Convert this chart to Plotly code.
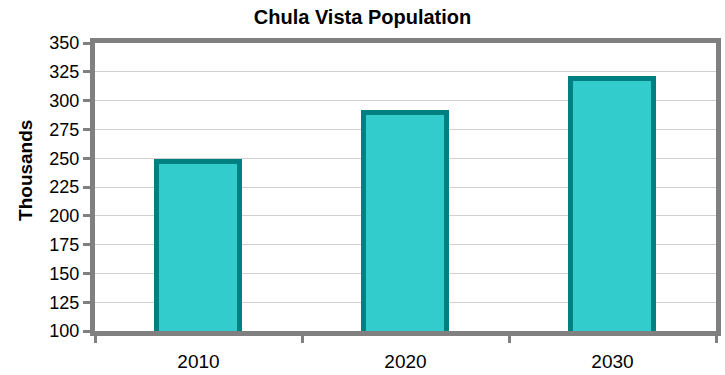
import plotly.graph_objects as go

# Chula Vista population, in thousands
years = ["2010", "2020", "2030"]
population = [247, 289, 319]
y_ticks = [100, 125, 150, 175, 200, 225, 250, 275, 300, 325, 350]

positions = list(range(len(years)))

fig = go.Figure(
    go.Bar(
        x=positions,
        y=population,
        width=0.405,
        marker=dict(color="#33CCCC", line=dict(color="#008080", width=5)),
        hoverinfo="skip",
    )
)

axis_grey = "#808080"
font_family = "Liberation Sans, Arial, sans-serif"

fig.update_layout(
    width=725,
    height=375,
    margin=dict(l=95, r=9, t=43, b=44),
    paper_bgcolor="white",
    plot_bgcolor="white",
    showlegend=False,
    font=dict(family=font_family, size=18, color="black"),
    title=dict(
        text="<b>Chula Vista Population</b>",
        x=0.5,
        xanchor="center",
        y=0.955,
        yanchor="middle",
        font=dict(family=font_family, size=20, color="black"),
    ),
    bargap=0,
    annotations=[
        dict(
            text="<b>Thousands</b>",
            textangle=-90,
            xref="paper",
            yref="paper",
            x=-0.111,
            y=0.556,
            xanchor="center",
            yanchor="middle",
            showarrow=False,
            font=dict(family=font_family, size=19, color="black"),
        )
    ],
)

fig.update_xaxes(
    range=[-0.5, 2.5],
    tickvals=positions,
    ticktext=years,
    ticks="",
    showgrid=False,
    zeroline=False,
    showline=True,
    linecolor=axis_grey,
    linewidth=5,
    mirror=True,
    automargin=False,
    ticklabelstandoff=9,
    minor=dict(
        tickvals=[-0.5, 0.5, 1.5, 2.5],
        ticks="outside",
        ticklen=7,
        tickwidth=3,
        tickcolor=axis_grey,
        showgrid=False,
    ),
    tickfont=dict(size=19),
)

fig.update_yaxes(
    range=[100, 350],
    tickvals=y_ticks,
    ticks="outside",
    ticklen=7,
    tickwidth=3,
    tickcolor=axis_grey,
    showgrid=True,
    gridcolor="#d0d0d0",
    gridwidth=1,
    zeroline=False,
    showline=True,
    linecolor=axis_grey,
    linewidth=5,
    mirror=True,
    automargin=False,
    tickfont=dict(size=18),
)

fig.write_html("out.html")
